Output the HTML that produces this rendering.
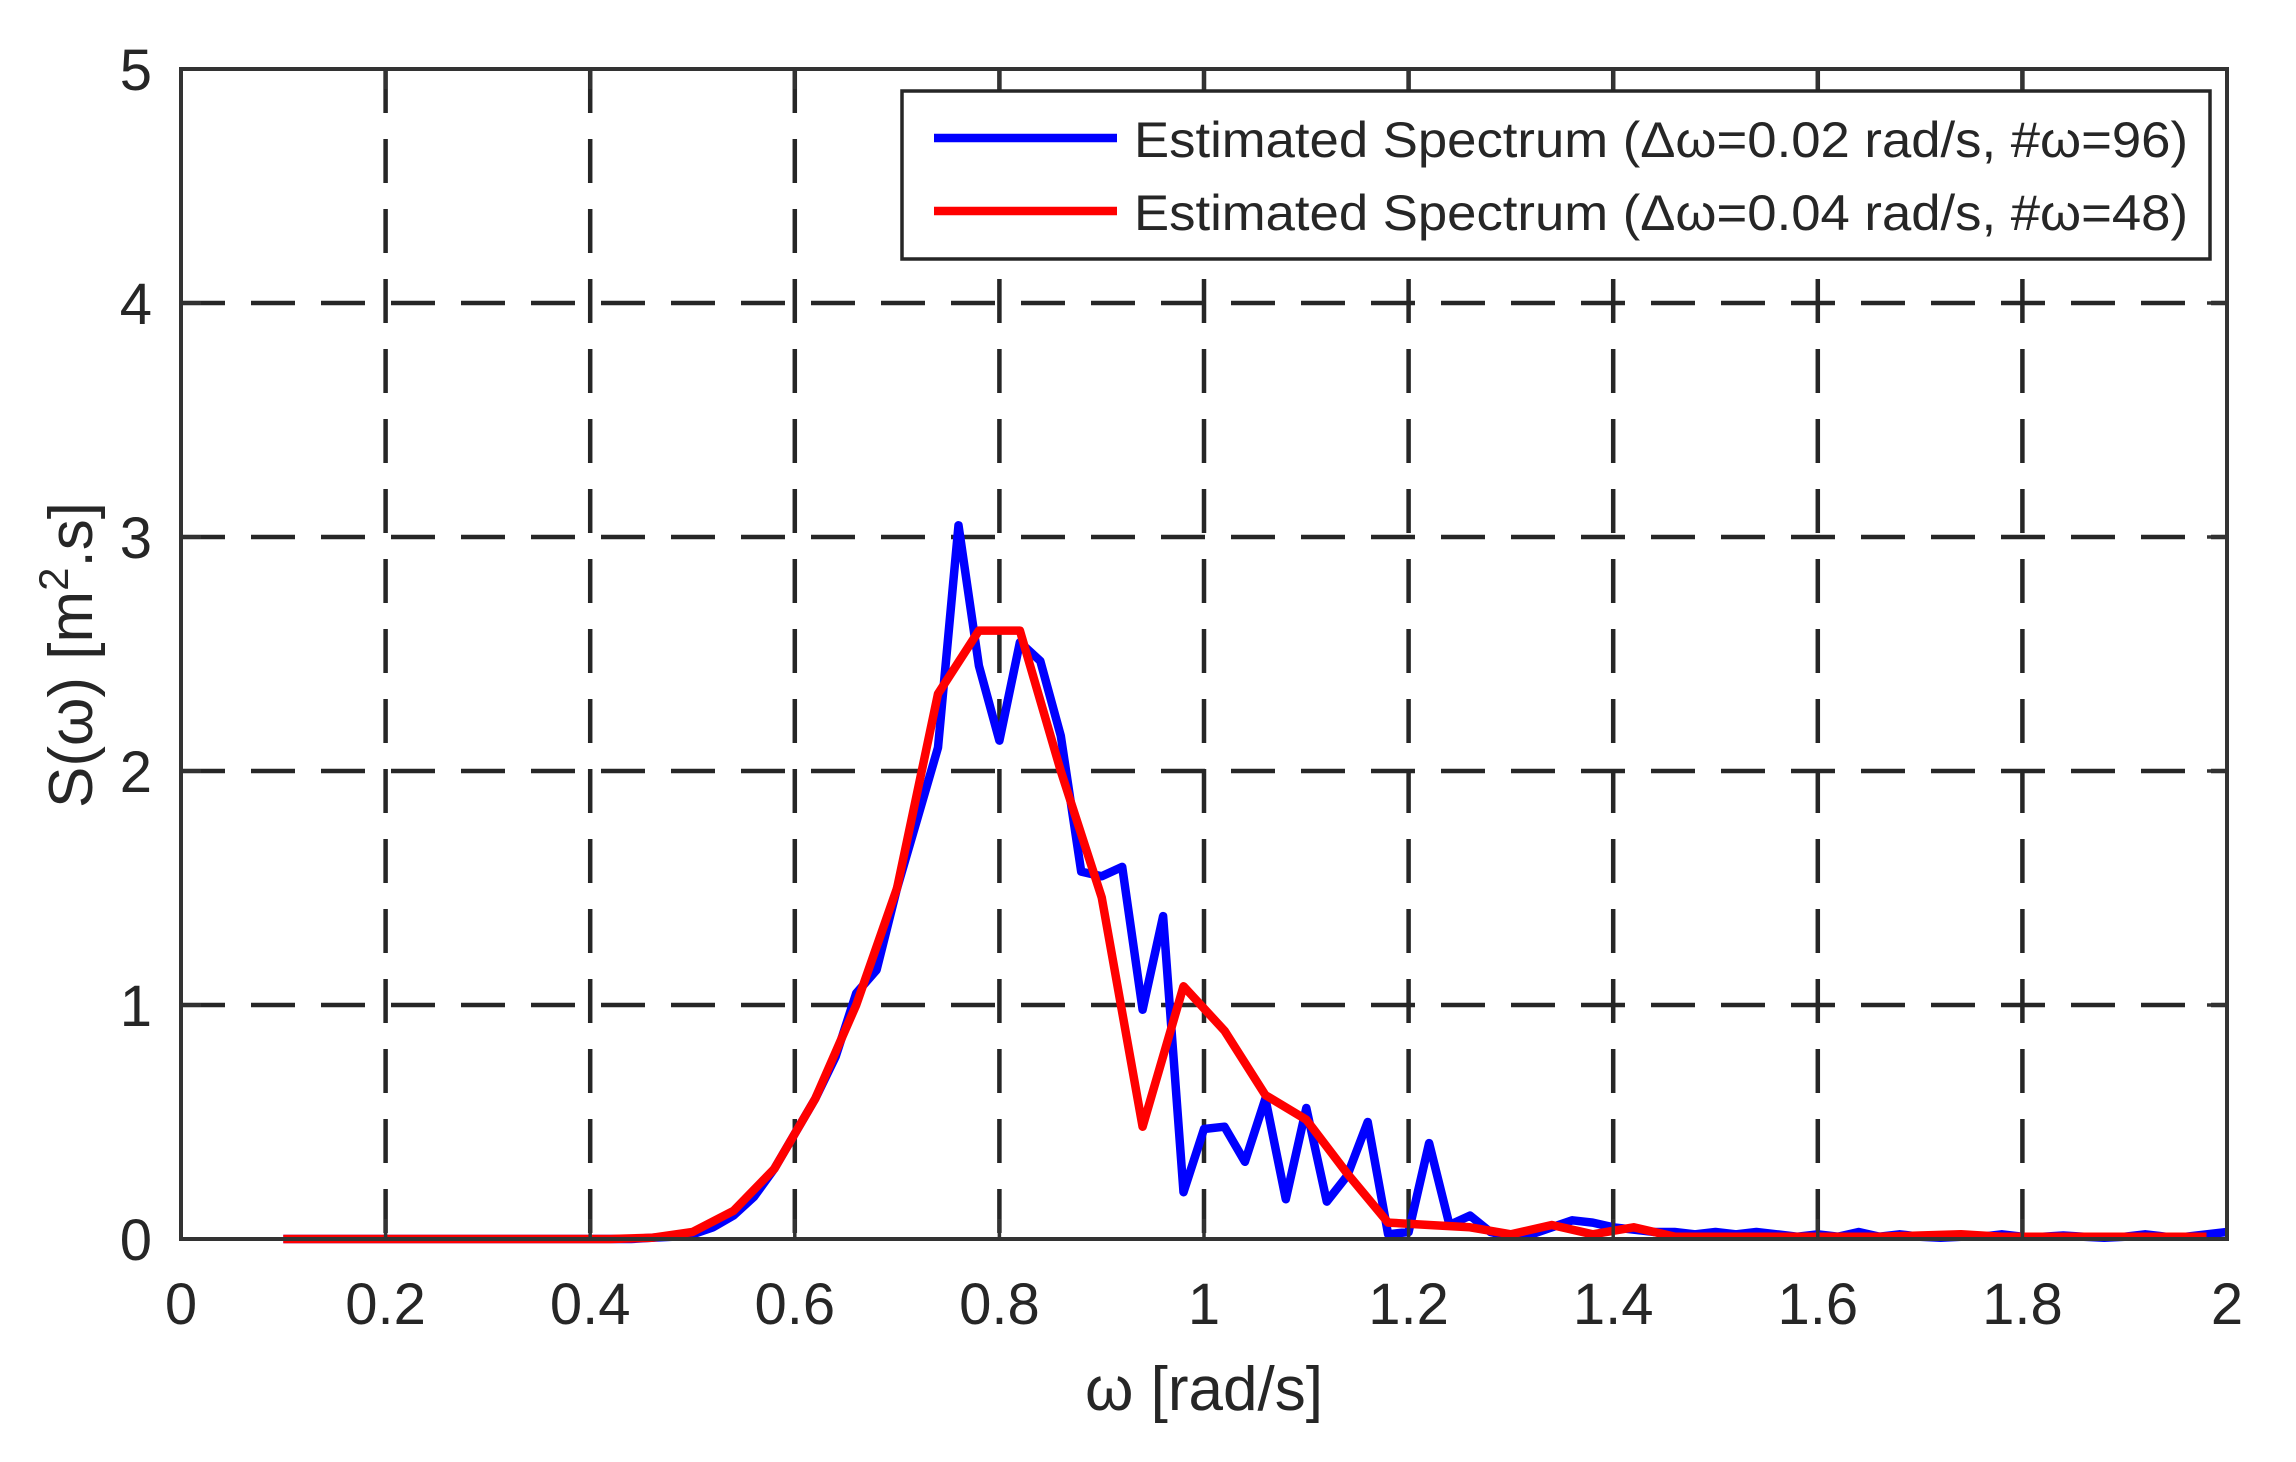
<!DOCTYPE html>
<html><head><meta charset="utf-8">
<style>
html,body{margin:0;padding:0;background:#fff;}
svg{display:block;}
text{font-family:"Liberation Sans",Arial,sans-serif;fill:#262626;}
</style></head>
<body>
<svg id="s" width="2296" height="1462" viewBox="0 0 2296 1462" xmlns="http://www.w3.org/2000/svg">
<rect width="2296" height="1462" fill="#fff"/>
<g id="grid" stroke="#262626" stroke-width="4.5" stroke-dasharray="44,26" fill="none"></g>
<g id="curves" fill="none" stroke-linejoin="round" stroke-width="8.5"></g>
<rect x="181" y="69" width="2046" height="1170" fill="none" stroke="#333" stroke-width="4"/>
<g id="ticks" stroke="#333" stroke-width="3.5"></g>
<g id="labels" font-size="58"></g>
<text x="1204" y="1410" font-size="62" text-anchor="middle">ω [rad/s]</text>
<text transform="translate(92,655) rotate(-90)" font-size="62" text-anchor="middle">S(ω) [m<tspan dy="-24" font-size="42">2</tspan><tspan dy="24">.s]</tspan></text>
<rect x="902" y="91" width="1308" height="168" fill="#fff" stroke="#262626" stroke-width="3.5"/>
<line x1="934" y1="138" x2="1117" y2="138" stroke="#0000ff" stroke-width="8.5"/>
<line x1="934" y1="211" x2="1117" y2="211" stroke="#ff0000" stroke-width="8.5"/>
<text x="1134" y="157" font-size="50" textLength="1054" lengthAdjust="spacingAndGlyphs" fill="#000">Estimated Spectrum (Δω=0.02 rad/s, #ω=96)</text>
<text x="1134" y="230" font-size="50" textLength="1054" lengthAdjust="spacingAndGlyphs" fill="#000">Estimated Spectrum (Δω=0.04 rad/s, #ω=48)</text>
</svg>
<script>
var NS="http://www.w3.org/2000/svg";
function X(v){return 181+v*1023;}
function Y(v){return 1239-v*234;}
function el(p,t,a){var e=document.createElementNS(NS,t);for(var k in a)e.setAttribute(k,a[k]);p.appendChild(e);return e;}
var g=document.getElementById('grid'),tk=document.getElementById('ticks'),lb=document.getElementById('labels');
for(var i=1;i<10;i++){var x=X(i*0.2);el(g,'line',{x1:x,y1:69,x2:x,y2:1239});}
for(var j=1;j<5;j++){var y=Y(j);el(g,'line',{x1:181,y1:y,x2:2227,y2:y});}
for(var i=0;i<=10;i++){var x=X(i*0.2);el(tk,'line',{x1:x,y1:1239,x2:x,y2:1219});el(tk,'line',{x1:x,y1:69,x2:x,y2:89});
 var t=el(lb,'text',{x:x,y:1324,'text-anchor':'middle'});t.textContent=(i==0?'0':i==5?'1':i==10?'2':(i*0.2).toFixed(1));}
for(var j=0;j<=5;j++){var y=Y(j);el(tk,'line',{x1:181,y1:y,x2:201,y2:y});el(tk,'line',{x1:2227,y1:y,x2:2207,y2:y});
 var t=el(lb,'text',{x:152,y:y+21,'text-anchor':'end'});t.textContent=j;}
var blue=[0,0,0,0,0,0,0,0,0,0,0,0,0,0,0,0,0,0,0.005,0.01,0.02,0.05,0.1,0.18,0.3,0.45,0.6,0.78,1.05,1.15,1.5,1.8,2.1,3.05,2.45,2.13,2.55,2.47,2.15,1.57,1.55,1.59,0.98,1.38,0.2,0.47,0.48,0.33,0.6,0.17,0.56,0.16,0.27,0.5,0.02,0.03,0.41,0.06,0.1,0.03,0.01,0.02,0.05,0.08,0.07,0.05,0.04,0.03,0.03,0.02,0.03,0.02,0.03,0.02,0.01,0.02,0.01,0.03,0.01,0.02,0.01,0.005,0.01,0.01,0.02,0.01,0.01,0.015,0.01,0.005,0.01,0.02,0.01,0.01,0.02,0.03];
var red=[0,0,0,0,0,0,0,0,0,0.005,0.03,0.12,0.3,0.6,1.0,1.5,2.33,2.6,2.6,2.0,1.46,0.48,1.08,0.89,0.615,0.51,0.28,0.07,0.06,0.05,0.02,0.06,0.02,0.05,0.01,0.01,0.01,0.01,0.01,0.01,0.015,0.02,0.01,0.01,0.01,0.01,0.01,0.01];
var c=document.getElementById('curves');
function pl(arr,dx,col){var p=[];for(var i=0;i<arr.length;i++){p.push(X(0.1+i*dx).toFixed(1)+','+Y(arr[i]).toFixed(1));}el(c,'polyline',{points:p.join(' '),stroke:col});}
pl(blue.slice(0,96),0.02,'#0000ff');
pl(red,0.04,'#ff0000');
</script>
</body></html>
